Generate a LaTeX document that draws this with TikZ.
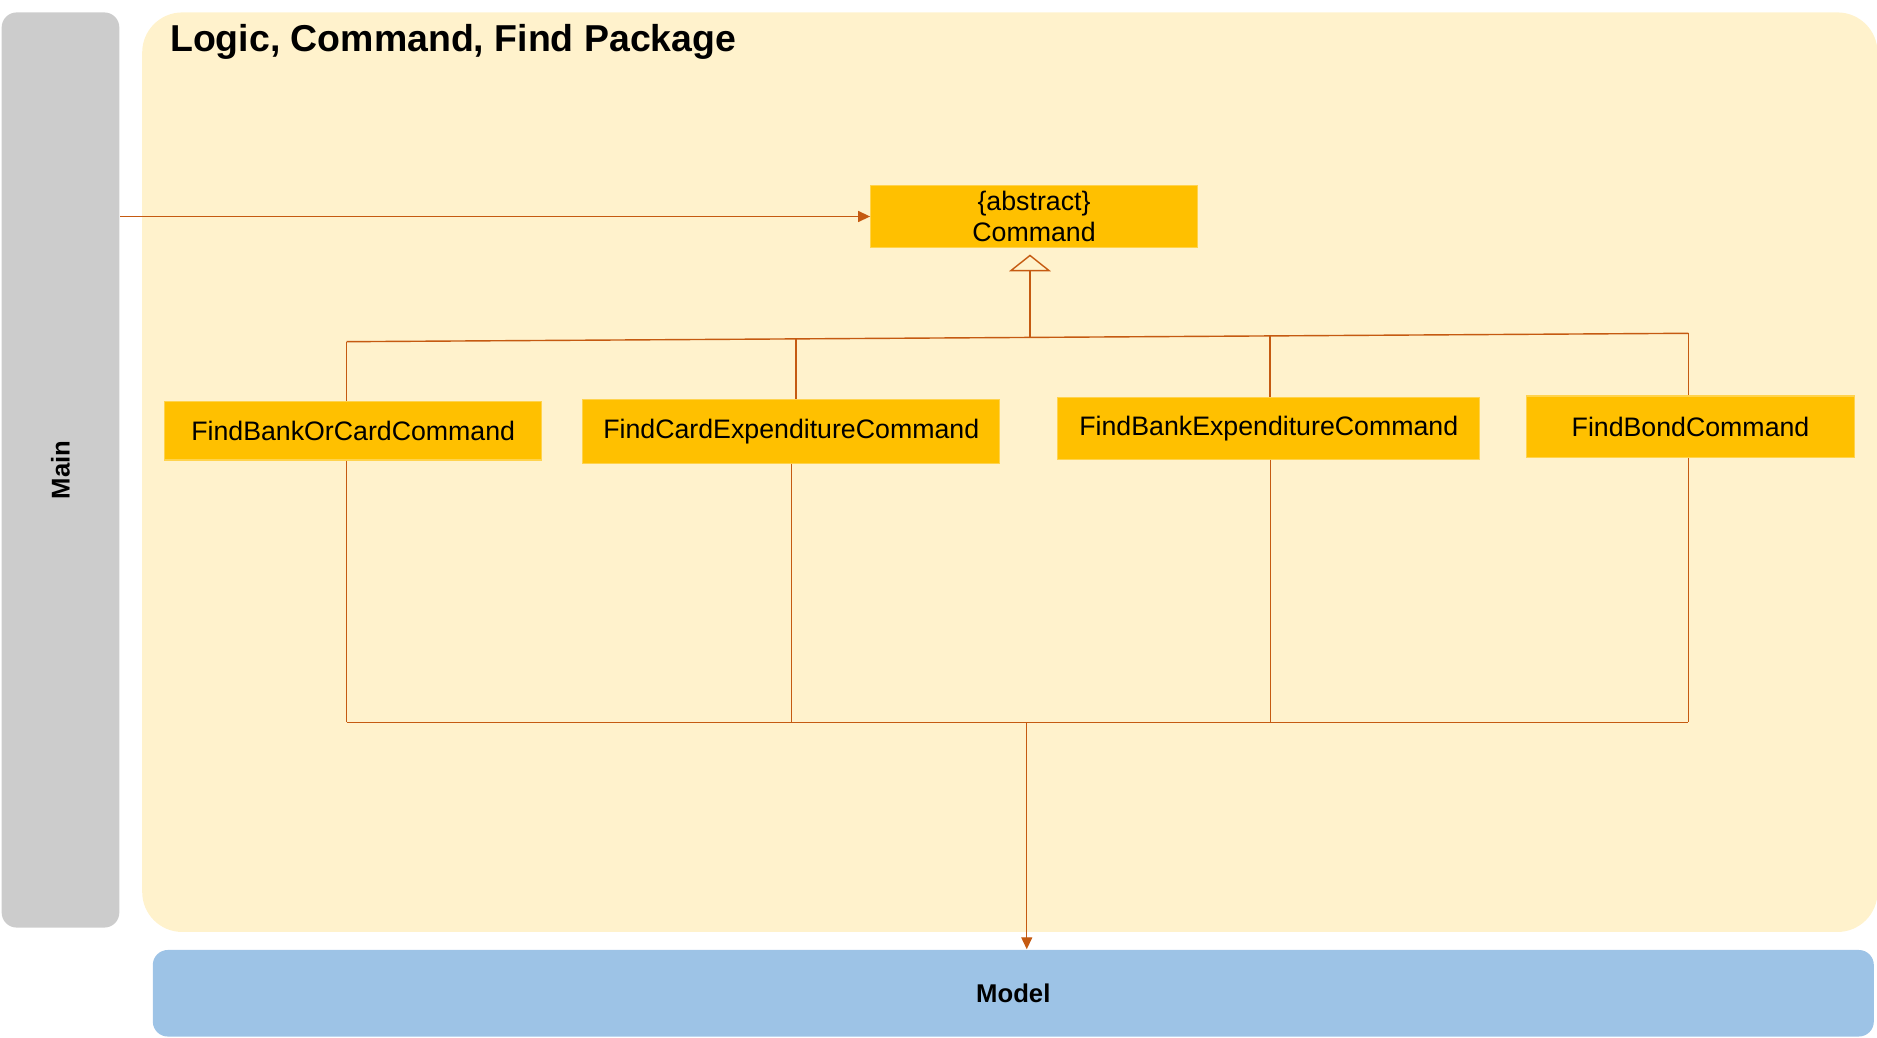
\documentclass[tikz,border=0pt]{standalone}
\usepackage{fontspec}
\setmainfont{Liberation Sans}
\usepackage{tikz}
\usetikzlibrary{arrows.meta}
\usetikzlibrary{calc}
\definecolor{pkgfill}{HTML}{FFF2CC}
\definecolor{mainfill}{HTML}{CCCCCC}
\definecolor{modelfill}{HTML}{9DC3E6}
\definecolor{classfill}{HTML}{FFC000}
\definecolor{classedge}{HTML}{FFD34D}
\definecolor{linkcol}{HTML}{C55A11}
\tikzstyle{layer} = [rectangle, inner sep=0pt, font=\fontsize{7.3}{8.8}\selectfont\bfseries]
\tikzstyle{classbox} = [rectangle, fill=classfill, draw=classedge, line width=0.3pt, inner sep=0pt, align=center, font=\fontsize{7.6}{8.6}\selectfont]
\tikzstyle{link} = [draw=linkcol, line width=0.4pt]
\tikzstyle{coord} = [coordinate]

\begin{document}
\begin{tikzpicture}[x=0.01cm, y=-0.01cm, >={Triangle[length=1.2mm,width=1.1mm]}]
	\useasboundingbox (0,0) rectangle (1877,1037);
	% layers
	\node [layer, fill=mainfill, rounded corners=0.15cm, minimum width=1.176cm, minimum height=9.146cm] (main) at (60.5,470) {\rotatebox{90}{Main}};
	\node [layer, fill=pkgfill, rounded corners=0.4cm, minimum width=17.343cm, minimum height=9.19cm] (logic) at (1009.85,472.2) {};
	\node [layer, fill=modelfill, rounded corners=0.15cm, minimum width=17.2cm, minimum height=0.865cm] (model) at (1013.3,993.25) {Model};
	\node [anchor=base west, inner sep=0pt, font=\fontsize{10.65}{12}\selectfont\bfseries] (title) at (169.5,51.7) {Logic, Command, Find Package};

	% classes
	\node [classbox, minimum width=3.266cm, minimum height=0.616cm] (cmd) at (1034,216.5) {\{abstract\}\\Command};
	\node [classbox, minimum width=3.77cm, minimum height=0.583cm] (findbankcard) at (353.2,430.85) {FindBankOrCardCommand};
	\node [classbox, minimum width=4.165cm, minimum height=0.634cm] (findcardexp) at (791.25,431.5) {FindCardExpenditureCommand};
	\node [classbox, minimum width=4.215cm, minimum height=0.611cm] (findbankexp) at (1268.75,428.5) {FindBankExpenditureCommand};
	\node [classbox, minimum width=3.27cm, minimum height=0.617cm] (findbond) at (1690.5,426.85) {FindBondCommand};

	% bus points
	\node [coord] (tl) at (346.7,341.7) {};
	\node [coord] (tr) at (1688.3,333.3) {};
	\node [coord] (t2) at ($(tl)!0.3349!(tr)$) {};
	\node [coord] (tc) at ($(tl)!0.5093!(tr)$) {};
	\node [coord] (t3) at ($(tl)!0.6882!(tr)$) {};
	\node [coord] (bl) at (346.7,722.3) {};
	\node [coord] (br) at (1688.3,722.3) {};
	\node [coord] (bm) at ($(bl)!0.5069!(br)$) {};
	\node [coord] (b3) at ($(bl)!0.6886!(br)$) {};

	% generalisation
	\draw [link] (tl) -- (tr);
	\draw [link] (tl) -- (tl |- findbankcard.north);
	\draw [link] (t2) -- (t2 |- findcardexp.north);
	\draw [link] (t3) -- (t3 |- findbankexp.north);
	\draw [link] (tr) -- (tr |- findbond.north);
	\draw [link, -{Triangle[open,length=1.67mm,width=4.17mm]}, shorten >=0.67mm] (tc) -- (tc |- cmd.south);

	% dependencies
	\draw [link, ->] (main.east |- cmd.west) -- (cmd.west);
	\draw [link] (bl) -- (br);
	\draw [link] (bl |- findbankcard.south) -- (bl);
	\draw [link] (findcardexp.south) -- (findcardexp.south |- bl);
	\draw [link] (b3 |- findbankexp.south) -- (b3);
	\draw [link] (br |- findbond.south) -- (br);
	\draw [link, ->] (bm) -- (bm |- model.north);
\end{tikzpicture}
\end{document}
